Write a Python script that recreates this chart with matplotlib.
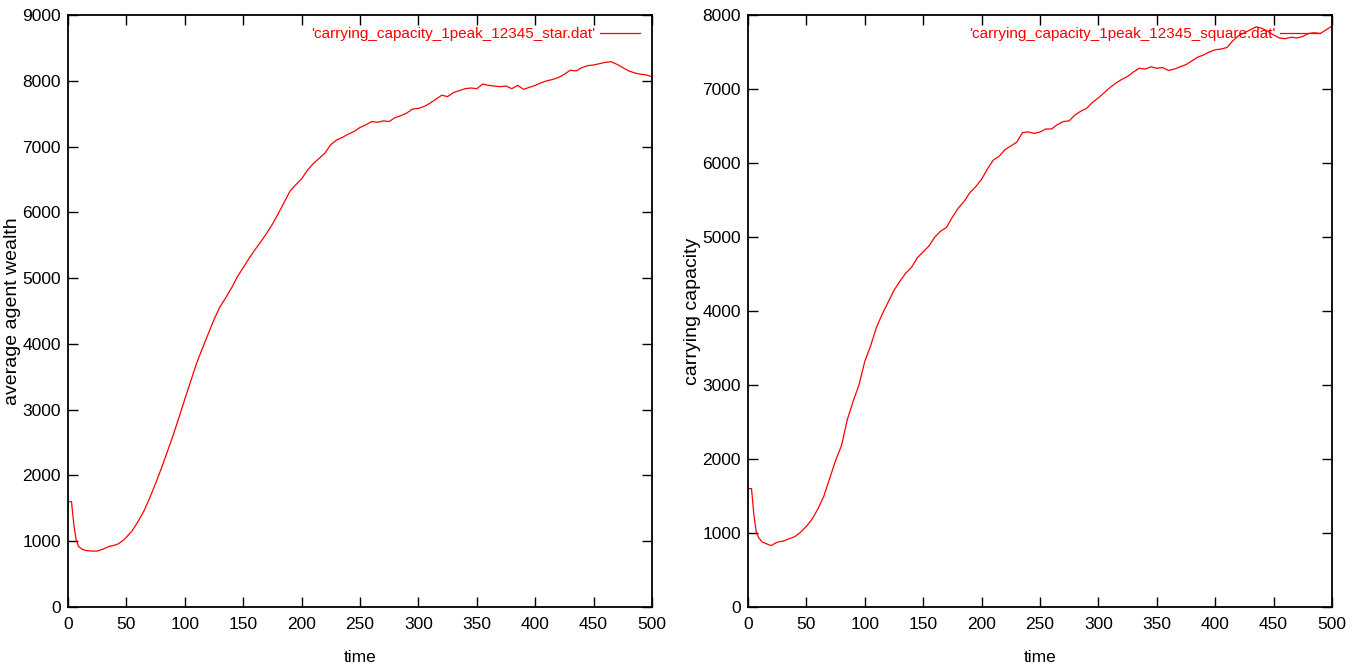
import numpy as np
import matplotlib
matplotlib.use("Agg")
import matplotlib.pyplot as plt

plt.rcParams['font.family'] = ['Liberation Sans', 'DejaVu Sans']

# star network: average agent wealth
t_star = [0, 3, 5, 7, 9, 12, 15, 20, 25, 30, 35, 40, 43, 47, 50, 55, 60, 65, 70, 75,
          80, 85, 90, 95, 100, 105, 110, 115, 120, 125, 130, 135, 140, 145, 150, 155,
          160, 165, 170, 175, 180, 185, 190, 195, 200, 205, 210, 215, 220, 225, 230,
          235, 240, 245, 250, 255, 260, 265, 270, 275, 280, 285, 290, 295, 300, 305,
          310, 315, 320, 325, 330, 335, 340, 345, 350, 355, 360, 365, 370, 375, 380,
          385, 390, 395, 400, 405, 410, 415, 420, 425, 430, 435, 440, 445, 450, 455,
          460, 465, 470, 475, 480, 485, 490, 495, 500]
v_star = [1600, 1600, 1250, 1020, 920, 880, 860, 850, 850, 880, 920, 940, 960, 1010,
          1060, 1160, 1300, 1460, 1660, 1880, 2110, 2360, 2610, 2880, 3160, 3430, 3700,
          3930, 4150, 4370, 4560, 4700, 4850, 5020, 5160, 5300, 5430, 5550, 5680, 5820,
          5980, 6150, 6320, 6420, 6510, 6640, 6740, 6820, 6900, 7030, 7100, 7140, 7190,
          7230, 7290, 7330, 7380, 7370, 7390, 7380, 7440, 7470, 7510, 7570, 7580, 7610,
          7660, 7720, 7780, 7760, 7820, 7850, 7880, 7890, 7880, 7950, 7930, 7920, 7910,
          7920, 7880, 7930, 7870, 7900, 7930, 7970, 8000, 8020, 8050, 8100, 8160, 8150,
          8200, 8230, 8240, 8260, 8280, 8290, 8250, 8200, 8150, 8120, 8100, 8090, 8060]

# square lattice: carrying capacity
t_square = [0, 3, 5, 7, 9, 12, 15, 18, 20, 23, 26, 30, 35, 40, 45, 50, 55, 60, 65, 70,
            75, 80, 85, 90, 95, 100, 105, 110, 115, 120, 125, 130, 135, 140, 145, 150,
            155, 160, 165, 170, 175, 180, 185, 190, 195, 200, 205, 210, 215, 220, 225,
            230, 235, 240, 245, 250, 255, 260, 265, 270, 275, 280, 285, 290, 295, 300,
            305, 310, 315, 320, 325, 330, 335, 340, 345, 350, 355, 360, 365, 370, 375,
            380, 385, 390, 395, 400, 405, 410, 415, 420, 425, 430, 435, 440, 445, 450,
            455, 460, 465, 470, 475, 480, 485, 490, 495, 500]
v_square = [1600, 1600, 1250, 1020, 940, 880, 860, 840, 830, 860, 880, 890, 920, 950,
            1010, 1090, 1190, 1330, 1500, 1740, 1980, 2180, 2530, 2780, 3000, 3320, 3530,
            3780, 3960, 4120, 4280, 4400, 4510, 4590, 4720, 4800, 4880, 5000, 5080, 5130,
            5270, 5390, 5480, 5600, 5680, 5780, 5920, 6040, 6090, 6180, 6230, 6280, 6410,
            6420, 6400, 6420, 6460, 6460, 6520, 6560, 6570, 6650, 6700, 6740, 6820, 6880,
            6950, 7020, 7080, 7130, 7170, 7230, 7280, 7270, 7300, 7280, 7290, 7250, 7270,
            7300, 7330, 7380, 7430, 7460, 7500, 7530, 7540, 7560, 7650, 7720, 7760, 7800,
            7840, 7820, 7780, 7730, 7690, 7680, 7700, 7690, 7710, 7750, 7760, 7750, 7800,
            7850]

fig = plt.figure(figsize=(13.57, 6.66), dpi=100)
ax1 = fig.add_axes([68/1357, 59/666, 584/1357, 592/666])
ax2 = fig.add_axes([748/1357, 59/666, 584/1357, 592/666])

panels = [
    (ax1, t_star, v_star, 9000, "'carrying_capacity_1peak_12345_star.dat'", "average agent wealth"),
    (ax2, t_square, v_square, 8000, "'carrying_capacity_1peak_12345_square.dat'", "carrying capacity"),
]

for ax, t, v, ymax, lab, ylab in panels:
    ax.plot(t, v, color="red", lw=0.9, label=lab)
    ax.set_xlim(0, 500)
    ax.set_ylim(0, ymax)
    ax.set_xticks(np.arange(0, 501, 50))
    ax.set_yticks(np.arange(0, ymax + 1, 1000))
    ax.tick_params(direction="in", length=7, width=1, top=True, right=True,
                   labelsize=12.5, colors="black")
    ax.tick_params(axis="x", pad=7)
    ax.tick_params(axis="y", pad=5)
    for s in ax.spines.values():
        s.set_linewidth(1.3)
    ax.set_xlabel("time", fontsize=12.5)
    ax.xaxis.set_label_coords(0.5, -0.072)
    ax.set_ylabel(ylab, fontsize=14)
    ax.yaxis.set_label_coords(-0.080, 0.5)
    ax.legend(loc="upper right", frameon=False, markerfirst=False, fontsize=11,
              handlelength=2.6, handletextpad=0.3, borderaxespad=0.4,
              labelcolor="red")

fig.savefig("out.png", dpi=100)
